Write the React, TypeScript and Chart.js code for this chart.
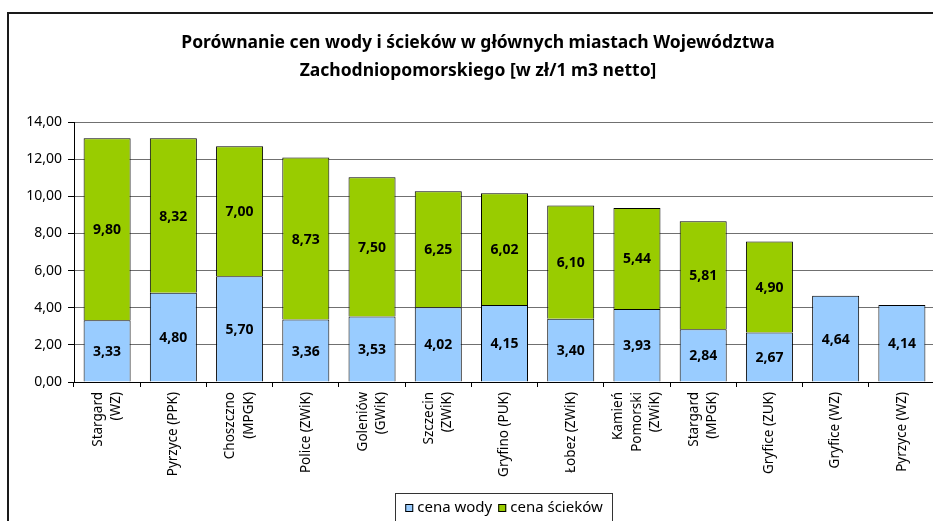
import React, { useEffect, useRef } from "react";
import { Chart, registerables } from "chart.js";
Chart.register(...registerables);

const categories: (string | string[])[] = [
  ["Stargard", "(WZ)"],
  "Pyrzyce (PPK)",
  ["Choszczno", "(MPGK)"],
  "Police (ZWiK)",
  ["Goleniów", "(GWiK)"],
  ["Szczecin", "(ZWiK)"],
  "Gryfino (PUK)",
  "Łobez (ZWiK)",
  ["Kamień", "Pomorski", "(ZWiK)"],
  ["Stargard", "(MPGK)"],
  "Gryfice (ZUK)",
  "Gryfice (WZ)",
  "Pyrzyce (WZ)",
];
const waterPrices = [3.33, 4.8, 5.7, 3.36, 3.53, 4.02, 4.15, 3.4, 3.93, 2.84, 2.67, 4.64, 4.14];
const sewagePrices: (number | null)[] = [9.8, 8.32, 7.0, 8.73, 7.5, 6.25, 6.02, 6.1, 5.44, 5.81, 4.9, null, null];
const seriesNames = ["cena wody", "cena ścieków"];
const titleLines = [
  "Porównanie cen wody i ścieków w głównych miastach Województwa",
  "Zachodniopomorskiego [w zł/1 m3 netto]",
];
const yMin = 0;
const yMax = 14;
const yStep = 2;

const FONT = "'Noto Sans', sans-serif";
const fmt = (v: number) => v.toFixed(2).replace(".", ",");

const decorPlugin = {
  id: "decor",
  beforeDraw(chart: any) {
    const ctx = chart.ctx;
    ctx.save();
    ctx.fillStyle = "#fff";
    ctx.fillRect(0, 0, chart.width, chart.height);
    ctx.restore();
  },
  afterDraw(chart: any) {
    const ctx = chart.ctx;
    ctx.save();
    // outer frame
    ctx.strokeStyle = "#1a1a1a";
    ctx.lineWidth = 2;
    ctx.strokeRect(8, 13, 1200, 1000);
    // title
    ctx.fillStyle = "#000";
    ctx.font = `bold 17.5px ${FONT}`;
    ctx.textAlign = "center";
    ctx.textBaseline = "middle";
    titleLines.forEach((t, i) => ctx.fillText(t, 478, 43 + i * 28));

    // category labels (rotated, multi-line centred on the tick)
    const xs = chart.scales.x;
    const top = chart.chartArea.bottom + 10;
    const lh = 18.5;
    ctx.font = `13.5px ${FONT}`;
    ctx.textAlign = "right";
    ctx.textBaseline = "middle";
    (chart.data.labels as any[]).forEach((lab: any, i: number) => {
      const lines: string[] = Array.isArray(lab) ? lab : [lab];
      const px = xs.getPixelForValue(i);
      lines.forEach((ln, j) => {
        const x = px + (j - (lines.length - 1) / 2) * lh;
        ctx.save();
        ctx.translate(x, top);
        ctx.rotate(-Math.PI / 2);
        ctx.fillText(ln, 0, 0);
        ctx.restore();
      });
    });

    // value labels
    ctx.textAlign = "center";
    ctx.font = `bold 14px ${FONT}`;
    chart.data.datasets.forEach((ds: any, di: number) => {
      const meta = chart.getDatasetMeta(di);
      meta.data.forEach((el: any, i: number) => {
        const v = ds.data[i];
        if (v == null) return;
        ctx.fillText(fmt(v), el.x, (el.y + el.base) / 2 + 1);
      });
    });

    // legend
    ctx.font = `15px ${FONT}`;
    ctx.textAlign = "left";
    const sq = 8;
    const items = chart.data.datasets.map((ds: any) => ({
      label: ds.label,
      color: ds.backgroundColor,
      w: ctx.measureText(ds.label).width,
    }));
    const pad = 7;
    const gapSq = 4;
    const gapItem = 6;
    let total = pad * 2;
    items.forEach((it: any, i: number) => {
      total += sq + gapSq + it.w + (i < items.length - 1 ? gapItem : 0);
    });
    const bx = 395.5;
    const by = 493.5;
    const bw = Math.max(total, 217);
    ctx.strokeStyle = "#333";
    ctx.lineWidth = 1;
    ctx.strokeRect(bx, by, bw, 60);
    let x = bx + pad + (bw - total) / 2;
    const ymid = 508;
    items.forEach((it: any) => {
      ctx.fillStyle = it.color;
      ctx.fillRect(x, ymid - sq / 2, sq, sq);
      ctx.strokeStyle = "#000";
      ctx.strokeRect(x + 0.5, ymid - sq / 2 + 0.5, sq - 1, sq - 1);
      x += sq + gapSq;
      ctx.fillStyle = "#000";
      ctx.fillText(it.label, x, ymid);
      x += it.w + gapItem;
    });
    ctx.restore();
  },
};

export default function App() {
  const ref = useRef<HTMLCanvasElement | null>(null);
  useEffect(() => {
    if (!ref.current) return;
    const chart = new Chart(ref.current, {
      type: "bar",
      data: {
        labels: categories,
        datasets: [
          {
            label: seriesNames[0],
            data: waterPrices,
            backgroundColor: "#99CCFF",
            borderColor: "#000",
            borderWidth: 1,
            barPercentage: 0.71,
            categoryPercentage: 1,
          },
          {
            label: seriesNames[1],
            data: sewagePrices,
            backgroundColor: "#99CC00",
            borderColor: "#000",
            borderWidth: 1,
            barPercentage: 0.71,
            categoryPercentage: 1,
          },
        ],
      },
      options: {
        animation: false,
        responsive: false,
        layout: { padding: { top: 122, right: 25, left: 0, bottom: 0 } },
        plugins: {
          legend: { display: false },
          title: { display: false },
          tooltip: { enabled: false },
        },
        scales: {
          x: {
            stacked: true,
            afterFit: (s: any) => {
              s.height = 139;
            },
            grid: {
              display: true,
              drawOnChartArea: false,
              drawTicks: true,
              tickLength: 5,
              tickColor: "#000",
              offset: true,
            },
            border: { color: "#000", width: 1 },
            ticks: {
              display: false,
              autoSkip: false,
            },
          },
          y: {
            stacked: true,
            min: yMin,
            max: yMax,
            afterFit: (s: any) => {
              s.width = 74;
            },
            grid: {
              color: "#707070",
              tickColor: "#000",
              tickLength: 6,
            },
            border: { color: "#000", width: 1 },
            ticks: {
              stepSize: yStep,
              padding: 6,
              color: "#000",
              font: { family: FONT, size: 14 },
              callback: (v: any) => fmt(Number(v)),
            },
          },
        },
      },
      plugins: [decorPlugin],
    });
    return () => chart.destroy();
  }, []);
  return (
    <div
      style={{
        position: "fixed",
        left: 0,
        top: 0,
        width: 933,
        height: 521,
        overflow: "hidden",
        background: "#fff",
      }}
    >
      <canvas ref={ref} width={960} height={521} style={{ display: "block" }} />
    </div>
  );
}
